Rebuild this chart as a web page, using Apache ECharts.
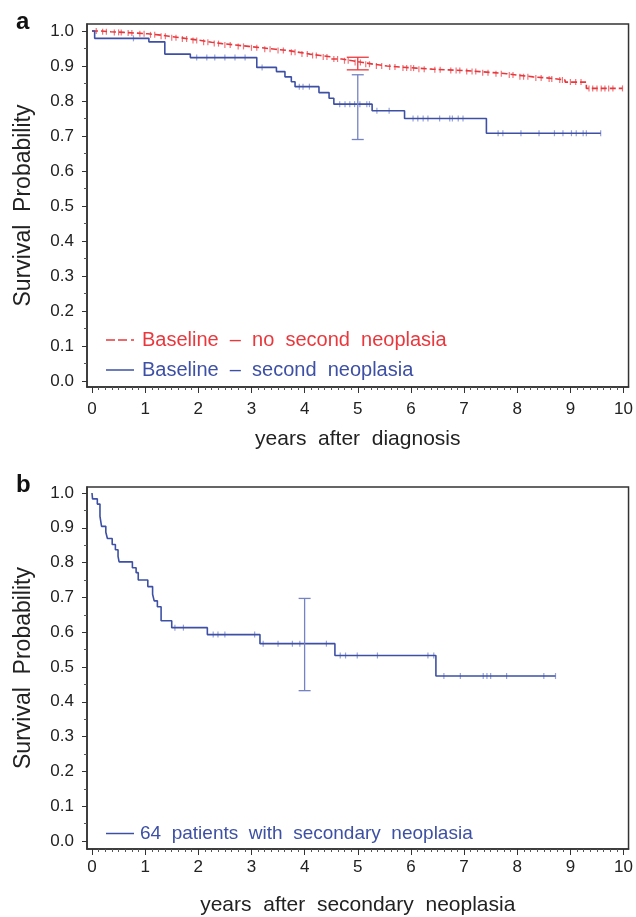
<!DOCTYPE html>
<html lang="en">

<head>
    <meta charset="UTF-8">
    <title>Survival curves</title>
    <script src="https://cdn.jsdelivr.net/npm/echarts@6.0.0/dist/echarts.min.js"></script>
    <style>
        body { margin: 0; background: #fff; }
    </style>
</head>

<body>
    <div id="main" style="width: 636px;height:917px;"></div>
    <script type="text/javascript">
        // panel a: baseline, no second neoplasia (red)
        const noSecTimes = [0, 0.15, 0.35, 0.6, 0.85, 1.05, 1.25, 1.45, 1.65, 1.85, 2.05, 2.25, 2.45, 2.7, 2.95, 3.2, 3.45, 3.7, 3.9, 4.1, 4.3, 4.5, 4.7, 4.9, 5.1, 5.3, 5.55, 5.8, 6.1, 6.4, 6.7, 7.0, 7.3, 7.55, 7.8, 8.0, 8.3, 8.55, 8.75, 8.9, 9.3];
        const noSecSurv = [1.0, 0.998, 0.996, 0.994, 0.992, 0.989, 0.985, 0.981, 0.977, 0.973, 0.968, 0.964, 0.96, 0.956, 0.952, 0.948, 0.944, 0.939, 0.934, 0.93, 0.926, 0.92, 0.915, 0.91, 0.905, 0.9, 0.897, 0.894, 0.891, 0.889, 0.887, 0.884, 0.881, 0.878, 0.874, 0.869, 0.866, 0.863, 0.86, 0.854, 0.836];
        const noSecEnd = 9.98;
        const noSecCensored = [0.08, 0.2, 0.27, 0.42, 0.5, 0.55, 0.68, 0.75, 0.9, 0.98, 1.1, 1.18, 1.3, 1.38, 1.5, 1.58, 1.7, 1.78, 1.9, 1.97, 2.1, 2.18, 2.3, 2.38, 2.5, 2.6, 2.75, 2.85, 3.0, 3.1, 3.25, 3.35, 3.5, 3.6, 3.75, 3.82, 3.95, 4.05, 4.15, 4.22, 4.35, 4.42, 4.55, 4.62, 4.75, 4.82, 4.95, 5.05, 5.15, 5.22, 5.35, 5.45, 5.6, 5.7, 5.85, 5.92, 6.0, 6.05, 6.15, 6.25, 6.45, 6.55, 6.75, 6.85, 6.92, 7.05, 7.15, 7.22, 7.35, 7.45, 7.6, 7.7, 7.85, 7.92, 8.05, 8.12, 8.2, 8.35, 8.45, 8.6, 8.65, 8.8, 8.85, 9.0, 9.1, 9.2, 9.35, 9.42, 9.5, 9.58, 9.65, 9.72, 9.8, 9.98];

        // panel a: baseline, second neoplasia (blue)
        const secTimes = [0, 0.05, 1.07, 1.37, 1.85, 3.1, 3.47, 3.63, 3.75, 3.82, 4.27, 4.46, 4.55, 5.27, 5.88, 7.42];
        const secSurv = [1.0, 0.979, 0.969, 0.934, 0.924, 0.896, 0.884, 0.869, 0.855, 0.841, 0.824, 0.808, 0.791, 0.772, 0.75, 0.708];
        const secEnd = 9.57;
        const secCensored = [0.78, 1.97, 2.16, 2.31, 2.5, 2.69, 2.88, 3.2, 3.9, 3.97, 4.09, 4.66, 4.76, 4.85, 4.94, 5.04, 5.17, 5.22, 5.36, 5.59, 6.04, 6.13, 6.23, 6.32, 6.54, 6.73, 6.78, 6.89, 6.98, 7.64, 7.73, 8.07, 8.41, 8.7, 8.86, 9.02, 9.11, 9.24, 9.3, 9.57];

        // confidence bars at 5 years: [time, low, high]
        const noSecBar = [5.0, 0.889, 0.925];
        const secBar = [5.0, 0.69, 0.875];

        // panel b: 64 patients after secondary neoplasia
        const afterTimes = [0, 0.01, 0.1, 0.15, 0.18, 0.26, 0.29, 0.38, 0.44, 0.49, 0.51, 0.76, 0.83, 0.87, 1.05, 1.14, 1.17, 1.23, 1.3, 1.5, 2.17, 3.16, 4.57, 6.47];
        const afterSurv = [1.0, 0.983, 0.968, 0.933, 0.904, 0.887, 0.869, 0.852, 0.837, 0.818, 0.802, 0.785, 0.771, 0.75, 0.731, 0.709, 0.69, 0.673, 0.633, 0.613, 0.593, 0.567, 0.533, 0.474];
        const afterEnd = 8.72;
        const afterCensored = [1.56, 1.72, 2.28, 2.37, 2.5, 3.06, 3.22, 3.5, 3.77, 3.91, 4.41, 4.67, 4.77, 4.99, 5.37, 6.32, 6.43, 6.62, 6.93, 7.36, 7.43, 7.5, 7.8, 8.5, 8.72];
        const afterBar = [4.0, 0.432, 0.697];

        // tick labels
        const xTicks = [0, 1, 2, 3, 4, 5, 6, 7, 8, 9, 10];
        const yTicks = [0, 0.1, 0.2, 0.3, 0.4, 0.5, 0.6, 0.7, 0.8, 0.9, 1.0];

        const RED = '#e8383d';
        const BLUE = '#3d50a5';
        const PALE = '#7d8bc8';
        const INK = '#222';
        const FONT = "'Liberation Sans', Arial, sans-serif";

        // minor ticks: 8 per year on x, one between on y
        const xMinor = [];
        for (let i = 0; i < xTicks.length - 1; i++) {
            for (let k = 1; k < 8; k++) xMinor.push(xTicks[i] + k / 8);
        }
        const yMinor = [];
        for (let i = 0; i < yTicks.length - 1; i++) yMinor.push(+(yTicks[i] + 0.05).toFixed(2));

        function stepData(times, surv, end) {
            const d = times.map((t, i) => [t, surv[i]]);
            d.push([end, surv[surv.length - 1]]);
            return d;
        }

        function survAt(times, surv, t) {
            let s = surv[0];
            for (let i = 0; i < times.length; i++) {
                if (times[i] <= t) s = surv[i];
            }
            return s;
        }

        function censorData(cens, times, surv) {
            return cens.map(t => [t, survAt(times, surv, t)]);
        }

        function errBar(color, half, gi) {
            return {
                type: 'custom',
                xAxisIndex: gi * 2, yAxisIndex: gi * 2,
                z: 5,
                renderItem: function (params, api) {
                    const top = api.coord([api.value(0), api.value(2)]);
                    const bot = api.coord([api.value(0), api.value(1)]);
                    const st = { stroke: color, lineWidth: 1.3 };
                    return {
                        type: 'group', children: [
                            { type: 'line', shape: { x1: top[0], y1: top[1], x2: bot[0], y2: bot[1] }, style: st },
                            { type: 'line', shape: { x1: top[0] - half, y1: top[1], x2: top[0] + half, y2: top[1] }, style: st },
                            { type: 'line', shape: { x1: bot[0] - half, y1: bot[1], x2: bot[0] + half, y2: bot[1] }, style: st }
                        ]
                    };
                }
            };
        }

        // frame runs a little past 0 and 10 on x, past 0 and 1 on y
        const X_MIN = -0.094, X_MAX = 10.094;

        function xAxesFor(gi, name, margin, gap) {
            return [{
                gridIndex: gi, type: 'value', position: 'bottom', min: X_MIN, max: X_MAX,
                axisLine: { show: true, onZero: false, lineStyle: { color: '#333', width: 1.5 } },
                axisTick: { show: true, length: 6, customValues: xTicks, lineStyle: { color: '#333' } },
                splitLine: { show: false },
                axisLabel: { fontSize: 17, color: INK, margin: margin, customValues: xTicks },
                name: name, nameLocation: 'middle', nameGap: gap,
                nameTextStyle: { fontSize: 21, color: INK }
            }, {
                gridIndex: gi, type: 'value', position: 'bottom', min: X_MIN, max: X_MAX,
                axisLine: { show: false, onZero: false },
                axisTick: { show: true, length: 3, customValues: xMinor, lineStyle: { color: '#555' } },
                splitLine: { show: false },
                axisLabel: { show: false }
            }];
        }

        function yAxesFor(gi, yMin, yMax) {
            return [{
                gridIndex: gi, type: 'value', position: 'left', min: yMin, max: yMax,
                axisLine: { show: true, onZero: false, lineStyle: { color: '#333', width: 1.5 } },
                axisTick: { show: true, length: 5, customValues: yTicks, lineStyle: { color: '#333' } },
                splitLine: { show: false },
                axisLabel: { fontSize: 17, color: INK, margin: 13, customValues: yTicks, formatter: v => v.toFixed(1) },
                name: 'Survival  Probability', nameLocation: 'middle', nameGap: 52,
                nameTextStyle: { fontSize: 23, color: INK }
            }, {
                gridIndex: gi, type: 'value', position: 'left', min: yMin, max: yMax,
                axisLine: { show: false, onZero: false },
                axisTick: { show: true, length: 3, customValues: yMinor, lineStyle: { color: '#555' } },
                splitLine: { show: false },
                axisLabel: { show: false }
            }];
        }

        const censorSymbol = { symbol: 'rect', symbolSize: [1.2, 6] };
        const redIcon = 'path://M0,0h9v1.5h-9z M12,0h9v1.5h-9z M25,0h3v1.5h-3z';
        const lineIcon = 'path://M0,0h28v1.5h-28z';

        let myChart = echarts.init(document.getElementById('main'));
        let options = {
            animation: false,
            textStyle: { fontFamily: FONT },
            title: [
                { text: 'a', left: 11, top: 5, textStyle: { fontSize: 24, fontWeight: 'bold', color: '#111', fontFamily: FONT } },
                { text: 'b', left: 11, top: 468, textStyle: { fontSize: 24, fontWeight: 'bold', color: '#111', fontFamily: FONT } }
            ],
            grid: [
                { left: 87, top: 24, width: 542, height: 363, show: true, borderColor: '#333', borderWidth: 1.5 },
                { left: 87, top: 487, width: 542, height: 364, show: true, borderColor: '#333', borderWidth: 1.5 }
            ],
            xAxis: [...xAxesFor(0, 'years  after  diagnosis', 14, 42), ...xAxesFor(1, 'years  after  secondary  neoplasia', 10, 46)],
            yAxis: [...yAxesFor(0, -0.0171, 1.02), ...yAxesFor(1, -0.0229, 1.0171)],
            legend: [
                {
                    orient: 'vertical', left: 101, top: 325, itemWidth: 28, itemHeight: 10, itemGap: 10,
                    selectedMode: false,
                    textStyle: { fontSize: 20, fontFamily: FONT, padding: [0, 0, 0, 3] },
                    data: [
                        { name: 'Baseline  –  no  second  neoplasia', icon: redIcon, textStyle: { color: RED } },
                        { name: 'Baseline  –  second  neoplasia', icon: lineIcon, textStyle: { color: BLUE } }
                    ]
                },
                {
                    orient: 'vertical', left: 101, top: 819, itemWidth: 28, itemHeight: 10,
                    selectedMode: false,
                    textStyle: { fontSize: 19, fontFamily: FONT, padding: [0, 0, 0, 1] },
                    data: [{ name: '64  patients  with  secondary  neoplasia', icon: lineIcon, textStyle: { color: BLUE } }]
                }
            ],
            series: [
                {
                    name: 'Baseline  –  no  second  neoplasia', type: 'line', step: 'end',
                    xAxisIndex: 0, yAxisIndex: 0, symbol: 'none',
                    lineStyle: { color: RED, width: 1.6, type: [6, 3] }, itemStyle: { color: RED },
                    data: stepData(noSecTimes, noSecSurv, noSecEnd)
                },
                {
                    name: 'redCensor', type: 'scatter', xAxisIndex: 0, yAxisIndex: 0, ...censorSymbol,
                    itemStyle: { color: RED, opacity: 0.7 },
                    data: censorData(noSecCensored, noSecTimes, noSecSurv)
                },
                {
                    name: 'Baseline  –  second  neoplasia', type: 'line', step: 'end',
                    xAxisIndex: 0, yAxisIndex: 0, symbol: 'none',
                    lineStyle: { color: BLUE, width: 1.6 }, itemStyle: { color: BLUE },
                    data: stepData(secTimes, secSurv, secEnd)
                },
                {
                    name: 'blueCensorA', type: 'scatter', xAxisIndex: 0, yAxisIndex: 0, ...censorSymbol,
                    itemStyle: { color: PALE },
                    data: censorData(secCensored, secTimes, secSurv)
                },
                Object.assign(errBar(RED, 11, 0), { name: 'redBar', data: [noSecBar] }),
                Object.assign(errBar('#7583c4', 6, 0), { name: 'blueBar', data: [secBar] }),
                {
                    name: '64  patients  with  secondary  neoplasia', type: 'line', step: 'end',
                    xAxisIndex: 2, yAxisIndex: 2, symbol: 'none',
                    lineStyle: { color: BLUE, width: 1.6 }, itemStyle: { color: BLUE },
                    data: stepData(afterTimes, afterSurv, afterEnd)
                },
                {
                    name: 'blueCensorB', type: 'scatter', xAxisIndex: 2, yAxisIndex: 2, ...censorSymbol,
                    itemStyle: { color: PALE },
                    data: censorData(afterCensored, afterTimes, afterSurv)
                },
                Object.assign(errBar('#7583c4', 6, 1), { name: 'afterBar', data: [afterBar] })
            ]
        };
        myChart.setOption(options);
    </script>
</body>

</html>
